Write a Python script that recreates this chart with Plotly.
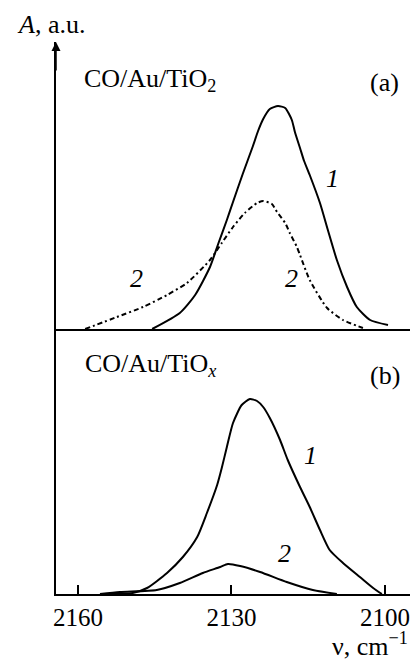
import plotly.graph_objects as go

# Wavenumber grid (cm^-1) and absorbance (a.u.) of the spectra
# Panel (a): CO/Au/TiO2
nu_a1 = [2145.5, 2140.1, 2137.1, 2134.2, 2132.6, 2130.9, 2129.7, 2127.8, 2125.8,
         2124.8, 2123.8, 2122.5, 2120.9, 2119.5, 2118.2, 2117.6, 2116.6, 2115.8,
         2114.7, 2112.7, 2111.1, 2109.4, 2107.4, 2105.5, 2102.9, 2099.4]
A_a1 = [0.0, 1.6, 3.4, 6.2, 8.5, 10.9, 12.7, 15.5, 18.3,
        19.8, 21.0, 22.0, 22.3, 22.1, 20.9, 19.7, 18.1, 16.8,
        15.4, 12.6, 9.8, 6.9, 4.2, 2.2, 0.9, 0.4]

nu_a2 = [2158.6, 2152.4, 2147.3, 2142.6, 2138.7, 2134.2, 2131.9, 2129.7, 2127.4,
         2125.0, 2123.8, 2122.1, 2121.1, 2119.5, 2118.6, 2117.2, 2116.6, 2114.7,
         2111.3, 2108.2, 2104.3]
A_a2 = [0.0, 1.2, 2.2, 3.4, 4.6, 6.9, 8.6, 10.2, 11.6,
        12.6, 12.8, 12.5, 11.7, 10.6, 9.6, 8.2, 7.4, 4.9,
        2.1, 0.9, 0.1]

# Panel (b): CO/Au/TiOx
nu_b1 = [2155.7, 2149.3, 2146.5, 2142.6, 2139.5, 2136.7, 2134.8, 2132.8, 2131.9,
         2130.9, 2129.7, 2128.0, 2126.4, 2125.0, 2123.8, 2122.5, 2120.5, 2119.0,
         2116.6, 2114.7, 2112.7, 2110.8, 2108.2, 2104.9, 2102.3, 2100.6]
A_b1 = [0.0, 0.1, 0.6, 2.1, 3.7, 5.7, 8.1, 10.9, 12.6,
        14.7, 17.1, 18.9, 19.5, 19.3, 18.7, 17.6, 15.4, 13.4,
        10.7, 8.7, 6.4, 4.4, 3.1, 1.7, 0.6, 0.0]

nu_b2 = [2155.7, 2151.8, 2144.6, 2140.1, 2135.6, 2132.2, 2130.7, 2128.3, 2124.4,
         2119.2, 2114.1, 2109.4]
A_b2 = [0.0, 0.2, 0.4, 1.1, 2.1, 2.7, 3.0, 2.8, 2.2,
        1.2, 0.4, 0.0]

x_ticks = [2160, 2130, 2100]
x_range = [2164.3, 2095.1]

FONT = "Liberation Serif, Times New Roman, serif"
FS = 26

fig = go.Figure()

line_solid = dict(color="black", width=2, shape="spline", smoothing=0.6)
fig.add_trace(go.Scatter(x=nu_a1, y=A_a1, mode="lines", line=line_solid,
                         xaxis="x", yaxis="y", showlegend=False))
fig.add_trace(go.Scatter(x=nu_a2, y=A_a2, mode="lines",
                         line=dict(color="black", width=2, shape="spline",
                                   smoothing=0.6, dash="5px,3px,2px,3px"),
                         xaxis="x", yaxis="y", showlegend=False))
fig.add_trace(go.Scatter(x=nu_b1, y=A_b1, mode="lines", line=line_solid,
                         xaxis="x2", yaxis="y2", showlegend=False))
fig.add_trace(go.Scatter(x=nu_b2, y=A_b2, mode="lines", line=line_solid,
                         xaxis="x2", yaxis="y2", showlegend=False))

split = (594 - 329) / 552.0

axis_common = dict(showgrid=False, zeroline=False, showline=True,
                   linecolor="black", linewidth=1.5)

fig.update_layout(
    width=410, height=664,
    margin=dict(l=56, r=0, t=42, b=70),
    paper_bgcolor="white", plot_bgcolor="white",
    font=dict(family=FONT, size=FS, color="black"),
    xaxis=dict(domain=[0, 1], anchor="y", range=x_range, showticklabels=False,
               ticks="", **axis_common),
    yaxis=dict(domain=[split, 1], anchor="x", range=[0, 28.7],
               showticklabels=False, ticks="", **axis_common),
    xaxis2=dict(domain=[0, 1], anchor="y2", range=x_range, tickvals=x_ticks,
                ticktext=[str(t) for t in x_ticks], ticks="inside", ticklen=9,
                tickwidth=1.5, tickcolor="black",
                tickfont=dict(family=FONT, size=25, color="black"),
                **axis_common),
    yaxis2=dict(domain=[0, split], anchor="x2", range=[0, 26.5],
                showticklabels=False, ticks="", **axis_common),
)

ann = []
# arrowhead on the ordinate
ann.append(dict(xref="paper", yref="paper", x=0, y=1, ax=0, ay=30,
                text="", showarrow=True, arrowhead=2, arrowsize=1.2,
                arrowwidth=1.5, arrowcolor="black"))
ann.append(dict(xref="paper", yref="paper", x=-0.116, y=1.031,
                xanchor="left", yanchor="middle", showarrow=False,
                text="<i>A</i>, a.u."))
ann.append(dict(xref="paper", yref="paper", x=0.0734, y=0.931,
                xanchor="left", yanchor="middle", showarrow=False,
                text="CO/Au/TiO<sub>2</sub>"))
ann.append(dict(xref="paper", yref="paper", x=0.929, y=0.9275,
                xanchor="center", yanchor="middle", showarrow=False,
                text="(a)"))
ann.append(dict(xref="paper", yref="paper", x=0.0763, y=0.4149,
                xanchor="left", yanchor="middle", showarrow=False,
                text="CO/Au/TiO<sub><i>x</i></sub>"))
ann.append(dict(xref="paper", yref="paper", x=0.929, y=0.3967,
                xanchor="center", yanchor="middle", showarrow=False,
                text="(b)"))
ann.append(dict(xref="paper", yref="paper", x=1.0, y=-0.091,
                xanchor="right", yanchor="middle", showarrow=False,
                text="ν, cm<sup>−1</sup>"))

# curve numbers
curve_labels = [
    ("x", "y", 2110.2, 15.1, "<i>1</i>"),
    ("x", "y", 2148.5, 5.1, "<i>2</i>"),
    ("x", "y", 2118.2, 5.1, "<i>2</i>"),
    ("x2", "y2", 2114.5, 13.9, "<i>1</i>"),
    ("x2", "y2", 2119.7, 4.1, "<i>2</i>"),
]
for xr, yr, xv, yv, t in curve_labels:
    ann.append(dict(xref=xr, yref=yr, x=xv, y=yv, text=t, showarrow=False,
                    xanchor="center", yanchor="middle"))

fig.update_layout(annotations=ann)

fig.write_html("out.html")
